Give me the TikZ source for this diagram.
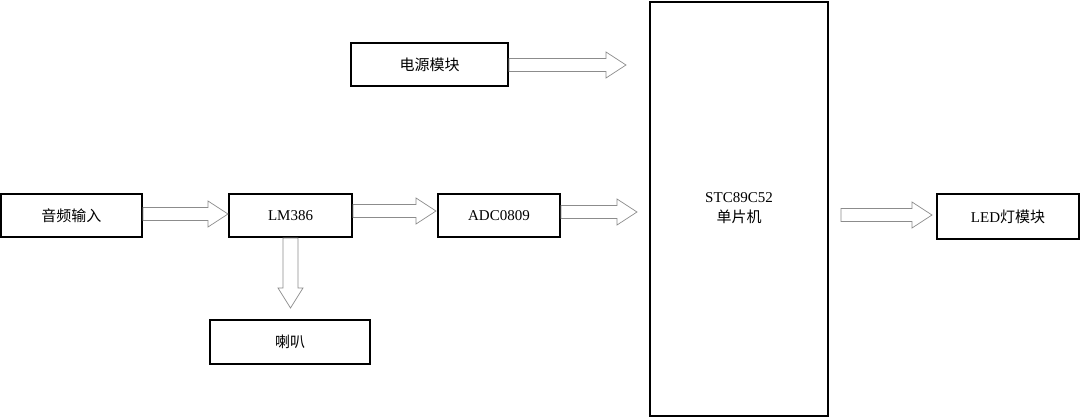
\documentclass[tikz,border=0pt]{standalone}
\usepackage{fontspec}
\setmainfont{Liberation Serif}
\newfontfamily\cjk{Noto Sans CJK SC}
\usetikzlibrary{calc}
\tikzset{blk/.style={draw=black,line width=1.2pt,inner sep=0pt,font=\fontsize{15}{17}\selectfont},
harrow/.style={draw=black!45,line width=0.7pt,fill=white}}
\newcommand\arrR[3]{% start point, end x, y
\draw[harrow] (#1,#3-6.5) -- (#2-20,#3-6.5) -- (#2-20,#3-13) -- (#2,#3) -- (#2-20,#3+13) -- (#2-20,#3+6.5) -- (#1,#3+6.5) -- cycle;}
\begin{document}
\begin{tikzpicture}[x=1pt,y=-1pt]
\useasboundingbox (0,0) rectangle (1080,418);
\node[blk,minimum width=178pt,minimum height=414pt] (mcu) at (739,209) {\begin{tabular}{c}STC89C52\\[2pt]{\cjk 单片机}\end{tabular}};
\node[blk,minimum width=157pt,minimum height=43pt] (pwr) at (429.5,64.5) {\cjk 电源模块};
\node[blk,minimum width=141pt,minimum height=43pt] (in) at (71.5,215.5) {\cjk 音频输入};
\node[blk,minimum width=123pt,minimum height=43pt] (lm) at (290.5,215.5) {LM386};
\node[blk,minimum width=122pt,minimum height=43pt] (adc) at (499,215.5) {ADC0809};
\node[blk,minimum width=160pt,minimum height=44pt] (spk) at (290,342) {\cjk 喇叭};
\node[blk,minimum width=142pt,minimum height=45pt] (led) at (1008,216.5) {LED{\cjk 灯模块}};
\arrR{509}{626}{65}
\arrR{143}{228}{214}
\arrR{353}{436}{211}
\arrR{561}{637}{212}
\arrR{841}{932}{215}
\draw[harrow] (283,238) -- (283,288) -- (278,288) -- (290.5,308) -- (303,288) -- (298,288) -- (298,238) -- cycle;
\end{tikzpicture}
\end{document}
